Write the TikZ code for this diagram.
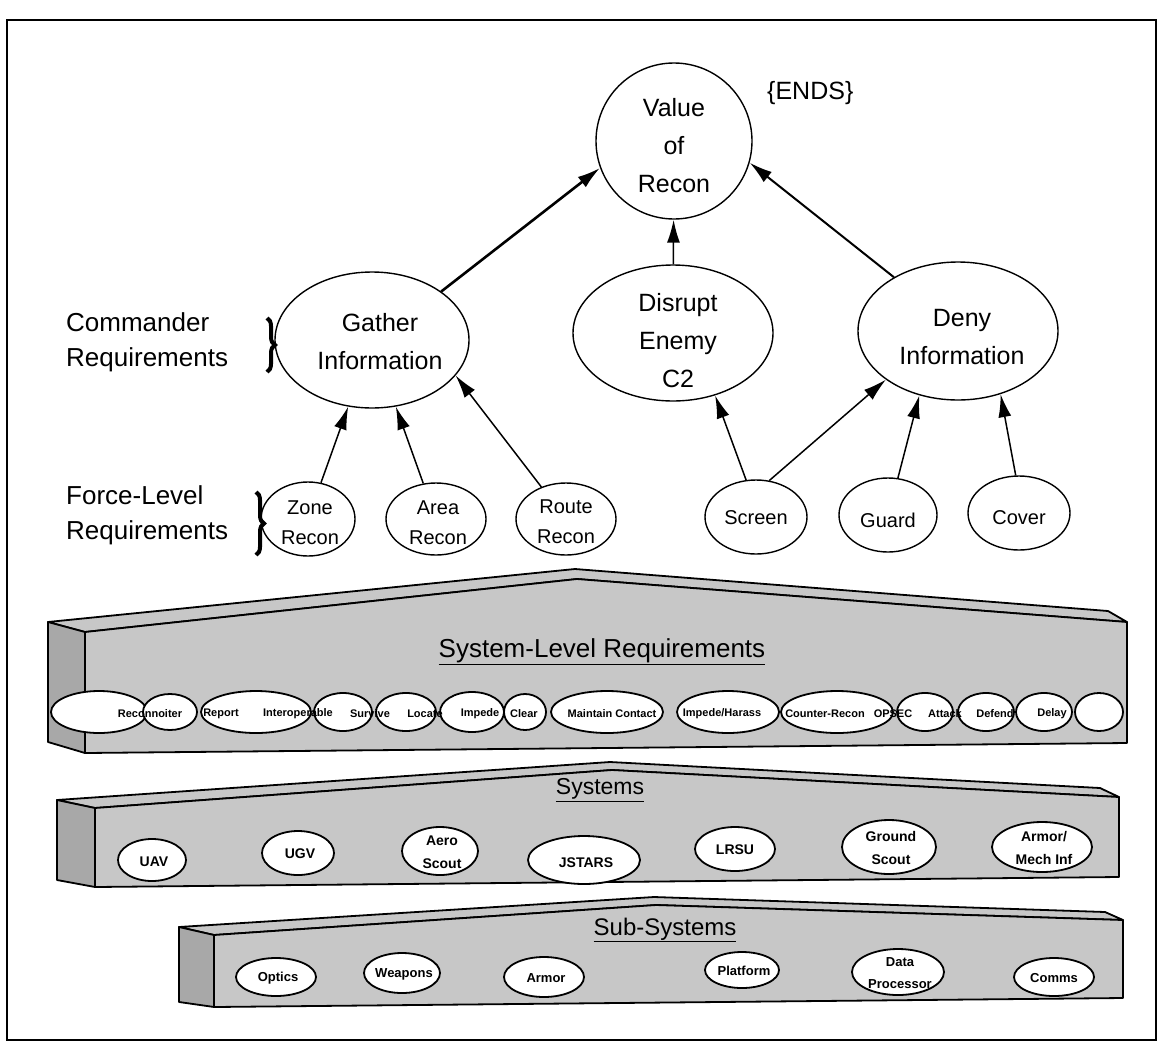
\documentclass[tikz,border=0pt]{standalone}
\usepackage{fontspec}
\setmainfont{Liberation Sans}
\usetikzlibrary{arrows.meta,shapes.geometric,decorations.pathreplacing}
\begin{document}
\begin{tikzpicture}[x=1pt,y=-1pt,
  ell/.style={draw, ellipse, line width=1.4pt, inner sep=0pt},
  bigtxt/.style={align=center, inner sep=0pt, font=\fontsize{25}{38}\selectfont},
  smtxt/.style={align=center, inner sep=0pt, font=\fontsize{20}{30}\selectfont},
  lbl/.style={anchor=west, inner sep=0pt, font=\fontsize{26}{38}\selectfont},
  arr/.style={-{Latex[length=23pt,width=13pt]}, line width=1.5pt},
  brc/.style={decorate, decoration={brace, amplitude=8pt}, line width=4pt},
  face/.style={draw, line width=1.8pt, line join=round, fill=black!22},
  side/.style={draw, line width=1.8pt, line join=round, fill=black!34},
  bxell/.style={draw, ellipse, line width=1.8pt, inner sep=0pt, fill=white},
  chtxt/.style={inner sep=0pt, font=\bfseries\fontsize{11}{13}\selectfont},
  sytxt/.style={align=center, inner sep=0pt, font=\bfseries\fontsize{14}{23}\selectfont},
  sbtxt/.style={align=center, inner sep=0pt, font=\bfseries\fontsize{13}{22}\selectfont},
  ttl/.style={inner sep=0pt, font=\fontsize{26}{30}\selectfont}
]
\useasboundingbox (0,0) rectangle (1159,1047);
\draw[line width=2.5pt] (7,20) rectangle (1156,1040);

% ---------- top hierarchy ----------
\node[ell, minimum width=156pt, minimum height=156pt] (value) at (674,141) {};
\node[bigtxt] (valuet) at (674,146) {Value\\of\\Recon};
\node[anchor=west, inner sep=0pt, font=\fontsize{25}{30}\selectfont] (ends) at (767,93) {\{ENDS\}};

\node[ell, minimum width=194pt, minimum height=136pt] (gather) at (372,340) {};
\node[bigtxt] (gathert) at (380,342) {Gather\\Information};
\node[ell, minimum width=200pt, minimum height=136pt] (disrupt) at (673,333) {};
\node[bigtxt] (disruptt) at (678,341) {Disrupt\\Enemy\\C2};
\node[ell, minimum width=200pt, minimum height=138pt] (deny) at (958,331) {};
\node[bigtxt] (denyt) at (962,337) {Deny\\Information};

\node[lbl] (cmd1) at (66,322) {Commander};
\node[lbl] (cmd2) at (66,360) {Requirements};
\draw[brc] (267,318) -- (267,372);

\node[ell, minimum width=94pt, minimum height=74pt] (zone) at (308,519) {};
\node[smtxt] (zonet) at (310,523) {Zone\\Recon};
\node[ell, minimum width=100pt, minimum height=72pt] (area) at (436,519) {};
\node[smtxt] (areat) at (438,523) {Area\\Recon};
\node[ell, minimum width=100pt, minimum height=72pt] (route) at (566,519) {};
\node[smtxt] (routet) at (566,522) {Route\\Recon};
\node[ell, minimum width=102pt, minimum height=74pt] (screen) at (756,517) {};
\node[smtxt] (screent) at (756,518) {Screen};
\node[ell, minimum width=98pt, minimum height=74pt] (guard) at (888,515) {};
\node[smtxt] (guardt) at (888,520) {Guard};
\node[ell, minimum width=102pt, minimum height=74pt] (cover) at (1019,513) {};
\node[smtxt] (covert) at (1019,518) {Cover};

\node[lbl] (fl1) at (66,495) {Force-Level};
\node[lbl] (fl2) at (66,533) {Requirements};
\draw[brc] (256,492) -- (256,555);

\draw[arr, line width=2.6pt] (gather.35) -- (value.200);
\draw[arr] (disrupt) -- (value);
\draw[arr, line width=2pt] (deny.140) -- (value.-16);
\draw[arr] (zone) -- (gather);
\draw[arr] (area) -- (gather);
\draw[arr] (route) -- (gather.-23);
\draw[arr] (screen.105) -- (disrupt.-56);
\draw[arr] (screen.70) -- (deny.214);
\draw[arr] (guard.75) -- (deny.239);
\draw[arr] (cover.95) -- (deny.-56);

% ---------- System-Level Requirements ----------
\path[face] (48,622) -- (575,569) -- (1108,611) -- (1127,622) -- (577,579) -- (85,632) -- cycle;
\path[side] (48,622) -- (85,632) -- (85,753) -- (48,742) -- cycle;
\path[face] (85,632) -- (577,579) -- (1127,622) -- (1127,743) -- (85,753) -- cycle;
\node[ttl] (slr) at (602,652) {\underline{System-Level Requirements}};

\foreach \n/\cx/\rx/\ry in {c1/99/48/21, c2/170/27/18, c3/256/55/21, c4/343/29/19,
  c5/406/30/19, c6/472/32/20, c7/525/21/18, c8/607/56/21, c9/728/51/21,
  c10/837/56/21, c11/925/28/19, c12/986/28/19, c13/1044/28/19, c14/1099/24/19}
  \node[bxell, minimum width=2*\rx pt, minimum height=2*\ry pt] (\n) at (\cx,712) {};

\node[chtxt] (r1) at (150,714) {Reconnoiter};
\node[chtxt] (r2) at (221,714) {Report};
\node[chtxt] (r3) at (298,714) {Interoperable};
\node[chtxt] (r4) at (370,714) {Survive};
\node[chtxt] (r5) at (425,714) {Locate};
\node[chtxt] (r6) at (480,714) {Impede};
\node[chtxt] (r7) at (524,714) {Clear};
\node[chtxt] (r8) at (612,714) {Maintain Contact};
\node[chtxt] (r9) at (722,714) {Impede/Harass};
\node[chtxt] (r10) at (825,714) {Counter-Recon};
\node[chtxt] (r11) at (893,714) {OPSEC};
\node[chtxt] (r12) at (945,714) {Attack};
\node[chtxt] (r13) at (995,714) {Defend};
\node[chtxt] (r14) at (1052,714) {Delay};

% ---------- Systems ----------
\path[face] (57,800) -- (610,762) -- (1100,788) -- (1119,797) -- (612,770) -- (95,808) -- cycle;
\path[side] (57,800) -- (95,808) -- (95,887) -- (57,880) -- cycle;
\path[face] (95,808) -- (612,770) -- (1119,797) -- (1119,877) -- (95,887) -- cycle;
\node[ttl, font=\fontsize{23}{28}\selectfont] (sys) at (600,790) {\underline{Systems}};

\node[bxell, minimum width=68pt, minimum height=42pt] (uav) at (152,860) {};
\node[sytxt] (uavt) at (154,862) {UAV};
\node[bxell, minimum width=72pt, minimum height=44pt] (ugv) at (298,853) {};
\node[sytxt] (ugvt) at (300,854) {UGV};
\node[bxell, minimum width=76pt, minimum height=48pt] (aero) at (440,851) {};
\node[sytxt] (aerot) at (442,852) {Aero\\Scout};
\node[bxell, minimum width=112pt, minimum height=48pt] (jstars) at (584,860) {};
\node[sytxt] (jstarst) at (586,863) {JSTARS};
\node[bxell, minimum width=80pt, minimum height=44pt] (lrsu) at (735,849) {};
\node[sytxt] (lrsut) at (735,850) {LRSU};
\node[bxell, minimum width=94pt, minimum height=54pt] (ground) at (889,847) {};
\node[sytxt] (groundt) at (891,848) {Ground\\Scout};
\node[bxell, minimum width=100pt, minimum height=50pt] (armor) at (1042,847) {};
\node[sytxt] (armort) at (1044,848) {Armor/\\Mech Inf};

% ---------- Sub-Systems ----------
\path[face] (179,927) -- (654,897) -- (1105,912) -- (1123,920) -- (656,905) -- (214,935) -- cycle;
\path[side] (179,927) -- (214,935) -- (214,1007) -- (179,1002) -- cycle;
\path[face] (214,935) -- (656,905) -- (1123,920) -- (1123,998) -- (214,1007) -- cycle;
\node[ttl, font=\fontsize{24}{28}\selectfont] (subsys) at (665,930) {\underline{Sub-Systems}};

\node[bxell, minimum width=80pt, minimum height=38pt] (optics) at (276,977) {};
\node[sbtxt] (opticst) at (278,978) {Optics};
\node[bxell, minimum width=76pt, minimum height=40pt] (weap) at (402,973) {};
\node[sbtxt] (weapt) at (404,974) {Weapons};
\node[bxell, minimum width=80pt, minimum height=40pt] (armr) at (544,977) {};
\node[sbtxt] (armrt) at (546,978) {Armor};
\node[bxell, minimum width=74pt, minimum height=36pt] (plat) at (742,970) {};
\node[sbtxt] (platt) at (744,971) {Platform};
\node[bxell, minimum width=92pt, minimum height=46pt] (dp) at (898,972) {};
\node[sbtxt] (dpt) at (900,973) {Data\\Processor};
\node[bxell, minimum width=80pt, minimum height=38pt] (comms) at (1054,977) {};
\node[sbtxt] (commst) at (1054,978) {Comms};
\end{tikzpicture}
\end{document}
